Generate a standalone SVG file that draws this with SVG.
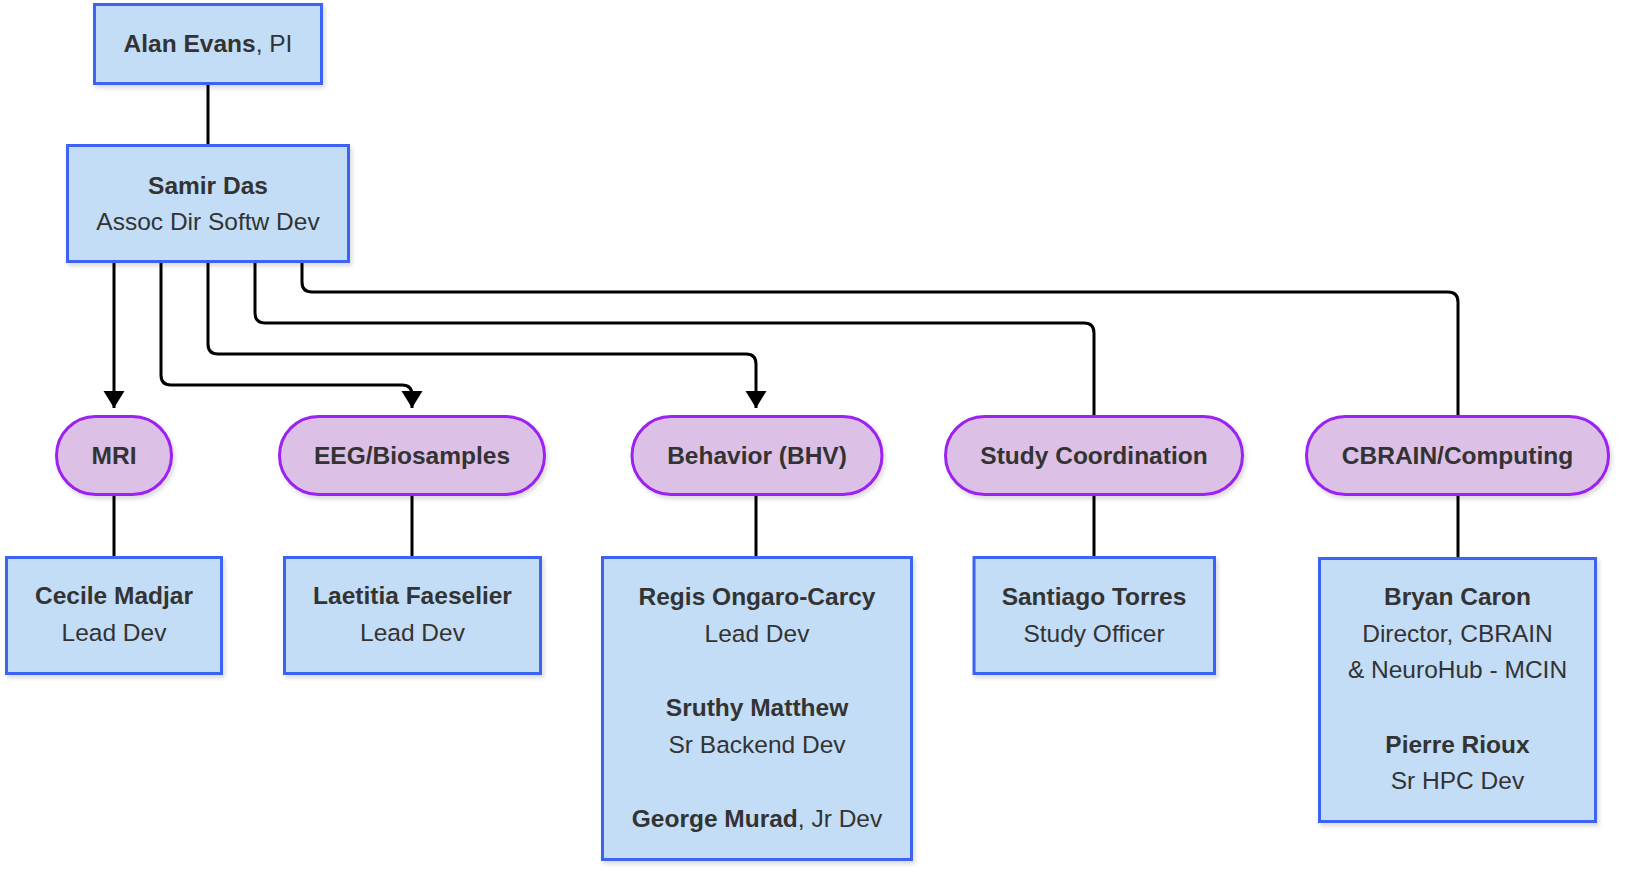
<svg xmlns="http://www.w3.org/2000/svg" width="1636" height="886" viewBox="0 0 1636 886">
<defs>
<filter id="sh" x="-10%" y="-10%" width="120%" height="130%">
<feDropShadow dx="2" dy="3" stdDeviation="2" flood-color="#000" flood-opacity="0.15"/>
</filter>
<marker id="arr" markerUnits="userSpaceOnUse" markerWidth="18" markerHeight="22" refX="17" refY="11" orient="auto" viewBox="0 0 18 22">
<path d="M0,0.5 L17,11 L0,21.5 Z" fill="#000"/>
</marker>
<style>
.box{fill:#c3ddf6;stroke:#3d64f5;stroke-width:3;filter:url(#sh)}
.pill{fill:#dcc0e6;stroke:#9b22f0;stroke-width:3;filter:url(#sh)}
.t{font-family:"Liberation Sans",Arial,Helvetica,sans-serif;font-size:24.5px;fill:#333;text-anchor:middle}
.b{font-weight:bold}
.c{fill:none;stroke:#000;stroke-width:3}
</style>
</defs>
<rect width="1636" height="886" fill="#fff"/>
<g id="connectors">
<path class="c" d="M208,85 V144"/>
<path class="c" d="M114,263 V408" marker-end="url(#arr)"/>
<path class="c" d="M161,263 V375 Q161,385 171,385 H402 Q412,385 412,395 V408" marker-end="url(#arr)"/>
<path class="c" d="M208,263 V344 Q208,354 218,354 H746 Q756,354 756,364 V408" marker-end="url(#arr)"/>
<path class="c" d="M255,263 V313 Q255,323 265,323 H1084 Q1094,323 1094,333 V415"/>
<path class="c" d="M302,263 V282 Q302,292 312,292 H1448 Q1458,292 1458,302 V415"/>
<path class="c" d="M114,496 V556"/>
<path class="c" d="M412,496 V556"/>
<path class="c" d="M756,496 V556"/>
<path class="c" d="M1094,496 V556"/>
<path class="c" d="M1458,496 V557"/>
</g>
<g id="alan">
<rect class="box" x="94.5" y="4.5" width="227" height="79"/>
<text class="t" x="208" y="52"><tspan class="b">Alan Evans</tspan>, PI</text>
</g>
<g id="samir">
<rect class="box" x="67.5" y="145.5" width="281" height="116"/>
<text class="t b" x="208" y="194">Samir Das</text>
<text class="t" x="208" y="230">Assoc Dir Softw Dev</text>
</g>
<g id="mri">
<rect class="pill" x="56.5" y="416.5" width="115" height="78" rx="39"/>
<text class="t b" x="114" y="464">MRI</text>
</g>
<g id="eeg">
<rect class="pill" x="279.5" y="416.5" width="265" height="78" rx="39"/>
<text class="t b" x="412" y="464">EEG/Biosamples</text>
</g>
<g id="bhv">
<rect class="pill" x="632" y="416.5" width="250" height="78" rx="39"/>
<text class="t b" x="757" y="464">Behavior (BHV)</text>
</g>
<g id="study">
<rect class="pill" x="945.5" y="416.5" width="297" height="78" rx="39"/>
<text class="t b" x="1094" y="464">Study Coordination</text>
</g>
<g id="cbrain">
<rect class="pill" x="1306.5" y="416.5" width="302" height="78" rx="39"/>
<text class="t b" x="1457.5" y="464">CBRAIN/Computing</text>
</g>
<g id="cecile">
<rect class="box" x="6.5" y="557.5" width="215" height="116"/>
<text class="t b" x="114" y="604">Cecile Madjar</text>
<text class="t" x="114" y="641">Lead Dev</text>
</g>
<g id="laetitia">
<rect class="box" x="284.5" y="557.5" width="256" height="116"/>
<text class="t b" x="412.5" y="604">Laetitia Faeselier</text>
<text class="t" x="412.5" y="641">Lead Dev</text>
</g>
<g id="regis">
<rect class="box" x="602.5" y="557.5" width="309" height="302"/>
<text class="t b" x="757" y="605">Regis Ongaro-Carcy</text>
<text class="t" x="757" y="641.5">Lead Dev</text>
<text class="t b" x="757" y="715.5">Sruthy Matthew</text>
<text class="t" x="757" y="752.5">Sr Backend Dev</text>
<text class="t" x="757" y="826.5"><tspan class="b">George Murad</tspan>, Jr Dev</text>
</g>
<g id="santiago">
<rect class="box" x="974" y="557.5" width="240.5" height="116"/>
<text class="t b" x="1094" y="605">Santiago Torres</text>
<text class="t" x="1094" y="641.5">Study Officer</text>
</g>
<g id="bryan">
<rect class="box" x="1319.5" y="558.5" width="276" height="263"/>
<text class="t b" x="1457.5" y="605">Bryan Caron</text>
<text class="t" x="1457.5" y="641.7">Director, CBRAIN</text>
<text class="t" x="1457.5" y="678.3">&amp; NeuroHub - MCIN</text>
<text class="t b" x="1457.5" y="752.7">Pierre Rioux</text>
<text class="t" x="1457.5" y="789.3">Sr HPC Dev</text>
</g>
</svg>
